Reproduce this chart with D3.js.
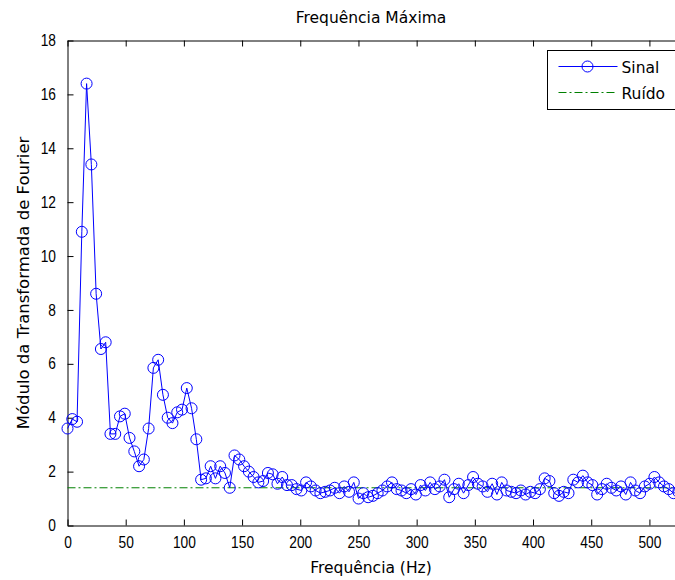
<!DOCTYPE html>
<html>
<head>
<meta charset="utf-8">
<script src="https://cdn.jsdelivr.net/npm/d3@7"></script>
<style>
  body { margin: 0; background: #fff; }
  text { font-family: "DejaVu Sans", sans-serif; }
  .tick text { font-family: "Liberation Sans", Arial, sans-serif; }
</style>
</head>
<body>
<div id="viz"></div>
<script>
// data
let freqStep = 4.1
let sinal = [
  3.6, 3.95, 3.85, 10.9, 16.4, 13.4, 8.6, 6.55, 6.8, 3.4,
  3.4, 4.05, 4.15, 3.25, 2.75, 2.2, 2.45, 3.6, 5.85, 6.15,
  4.85, 4.0, 3.8, 4.2, 4.3, 5.1, 4.35, 3.2, 1.7, 1.75,
  2.2, 1.75, 2.2, 1.95, 1.4, 2.6, 2.45, 2.2, 2.0, 1.8,
  1.6, 1.65, 1.95, 1.9, 1.55, 1.8, 1.5, 1.5, 1.35, 1.3,
  1.6, 1.45, 1.3, 1.2, 1.25, 1.3, 1.4, 1.2, 1.45, 1.25,
  1.6, 1.0, 1.2, 1.05, 1.1, 1.2, 1.3, 1.45, 1.6, 1.35,
  1.3, 1.2, 1.35, 1.15, 1.5, 1.3, 1.6, 1.35, 1.45, 1.7,
  1.05, 1.35, 1.55, 1.2, 1.5, 1.8, 1.55, 1.45, 1.25, 1.55,
  1.15, 1.6, 1.3, 1.25, 1.2, 1.3, 1.15, 1.25, 1.2, 1.35,
  1.75, 1.65, 1.2, 1.1, 1.25, 1.2, 1.7, 1.6, 1.85, 1.6,
  1.5, 1.15, 1.35, 1.55, 1.4, 1.3, 1.45, 1.15, 1.6, 1.3,
  1.2, 1.45, 1.55, 1.8, 1.6, 1.45, 1.35, 1.2, 1.25
]
let ruido = 1.4
let xTicks = [0, 50, 100, 150, 200, 250, 300, 350, 400, 450, 500]
let yTicks = [0, 2, 4, 6, 8, 10, 12, 14, 16, 18]
let legendLabels = ["Sinal", "Ruído"]

let data = sinal.map((v, i) => ({ f: i * freqStep, v: v }))

let W = 675, H = 580
let margin = { left: 67.5, right: -7, top: 40.5, bottom: 54.5 }
let width = W - margin.left - margin.right
let height = H - margin.top - margin.bottom
let squeeze = 0.86   // tick digits are a bit tall and narrow

let svg = d3.select("#viz")
  .append("svg")
    .attr("width", W)
    .attr("height", H)

let g = svg.append("g")
    .attr("transform", "translate(" + margin.left + "," + margin.top + ")")

// scales
let xScale = d3.scaleLinear()
    .domain([0, 528])
    .range([0, width])

let yScale = d3.scaleLinear()
    .domain([0, 18])
    .range([height, 0])

// axes (inward ticks, matlab style)
let xAxis = d3.axisBottom(xScale).tickValues(xTicks).tickSizeInner(-6).tickSizeOuter(0).tickPadding(11)
let yAxis = d3.axisLeft(yScale).tickValues(yTicks).tickSizeInner(-6).tickSizeOuter(0).tickPadding(11.5)
let xTop = d3.axisTop(xScale).tickValues(xTicks).tickSizeInner(-6).tickSizeOuter(0).tickFormat("")

g.append("g").attr("id", "x-axis").attr("transform", `translate(0,${height})`).call(xAxis)
g.append("g").attr("id", "y-axis").call(yAxis)
g.append("g").call(xTop)

g.selectAll(".domain").attr("stroke", "#000")
g.selectAll(".tick line").attr("stroke", "#000")
g.selectAll(".tick text").attr("font-size", 16).attr("fill", "#000")

d3.select("#x-axis").selectAll(".tick text")
    .attr("transform", `scale(${squeeze},1)`)
d3.select("#y-axis").selectAll(".tick text")
    .attr("x", -11.5 / squeeze)
    .attr("transform", `scale(${squeeze},1)`)

// noise line
g.append("line")
    .attr("x1", xScale(0))
    .attr("x2", width)
    .attr("y1", yScale(ruido))
    .attr("y2", yScale(ruido))
    .attr("stroke", "#008000")
    .attr("stroke-dasharray", "8,3,2,3")

// signal line + markers
let line = d3.line().x(d => xScale(d.f)).y(d => yScale(d.v))

g.append("path")
    .datum(data)
    .attr("fill", "none")
    .attr("stroke", "#0000ff")
    .attr("stroke-width", 1)
    .attr("d", line)

g.selectAll("circle.pt")
  .data(data)
  .join("circle")
    .attr("class", "pt")
    .attr("cx", d => xScale(d.f))
    .attr("cy", d => yScale(d.v))
    .attr("r", 5.5)
    .attr("fill", "none")
    .attr("stroke", "#0000ff")

// title & labels
svg.append("text")
    .attr("x", 371).attr("y", 23)
    .attr("text-anchor", "middle")
    .attr("font-size", 15.5)
    .text("Frequência Máxima")

svg.append("text")
    .attr("x", 371).attr("y", 573)
    .attr("text-anchor", "middle")
    .attr("font-size", 15.5)
    .text("Frequência (Hz)")

svg.append("text")
    .attr("transform", "translate(29," + (margin.top + height / 2) + ") rotate(-90)")
    .attr("text-anchor", "middle")
    .attr("font-size", 16.5)
    .text("Módulo da Transformada de Fourier")

// legend
let leg = svg.append("g").attr("transform", "translate(547.5,50.5)")
leg.append("rect")
    .attr("width", 140).attr("height", 59)
    .attr("fill", "#fff").attr("stroke", "#000")

leg.append("line").attr("x1", 11).attr("x2", 70).attr("y1", 16).attr("y2", 16).attr("stroke", "#0000ff")
leg.append("circle").attr("cx", 40).attr("cy", 16).attr("r", 5.5).attr("fill", "none").attr("stroke", "#0000ff")
leg.append("line").attr("x1", 11).attr("x2", 70).attr("y1", 42).attr("y2", 42)
    .attr("stroke", "#008000").attr("stroke-dasharray", "8,3,2,3")

leg.selectAll("text.lbl")
  .data(legendLabels)
  .join("text")
    .attr("class", "lbl")
    .attr("x", 74)
    .attr("y", (d, i) => 22 + i * 26)
    .attr("font-size", 15.5)
    .text(d => d)
</script>
</body>
</html>
